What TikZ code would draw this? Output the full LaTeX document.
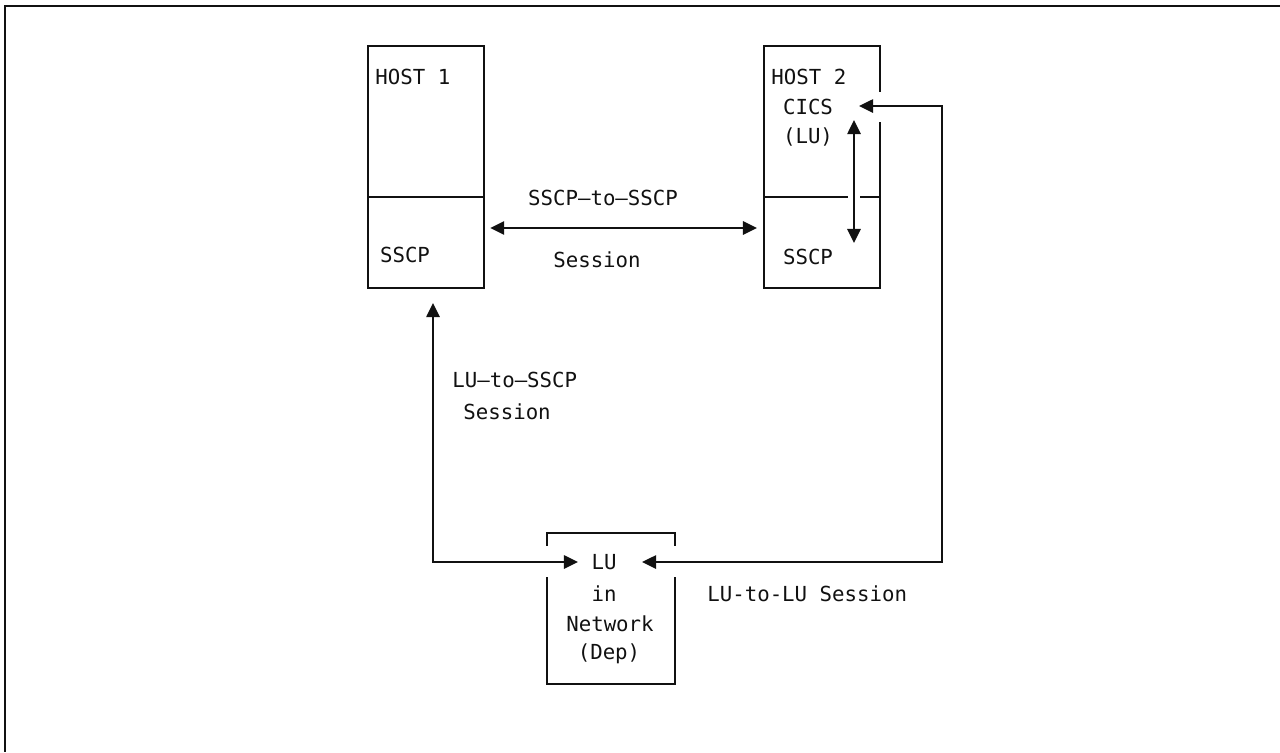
\documentclass[tikz,border=0pt]{standalone}
\usepackage{fontspec}
\setmainfont{DejaVu Sans Mono}
\usetikzlibrary{arrows.meta,positioning,calc}
\definecolor{inkblack}{HTML}{111111}
\tikzset{
  hostbox/.style={draw=inkblack, line width=1.3pt, minimum width=2.32cm, minimum height=4.84cm, anchor=north west, inner sep=0pt},
  netbox/.style={draw=inkblack, line width=1.3pt, minimum width=2.56cm, minimum height=3.02cm, anchor=north west, inner sep=0pt},
  txt/.style={font=\fontsize{11.8}{13}\selectfont, text=inkblack, inner sep=0pt},
  session/.style={draw=inkblack, line width=1.3pt, {Triangle[length=8pt,width=7.5pt]}-{Triangle[length=8pt,width=7.5pt]}},
  frameline/.style={draw=inkblack, line width=1.5pt}
}

\begin{document}
\begin{tikzpicture}[x=0.02cm, y=-0.02cm]
\useasboundingbox (0,0) rectangle (1280,752);
\draw[frameline] (1280,6) -- (5,6) -- (5,752);

% the two hosts
\node[hostbox] (host1) at (367,45) {};
\draw[inkblack, line width=1.3pt] (host1.west |- 0,197) -- (host1.east |- 0,197);
\node[hostbox] (host2) at (763,45) {};
\fill[white] (876,92) rectangle (882,122);
\draw[inkblack, line width=1.3pt] (host2.west |- 0,197) -- (848,197);
\draw[inkblack, line width=1.3pt] (860,197) -- (host2.east |- 0,197);

\node[txt, anchor=west] (h1name) at (375,77) {HOST 1};
\node[txt] (h1sscp) at (405,255) {SSCP};
\node[txt, anchor=west] (h2name) at (771,77) {HOST 2};
\node[txt] (h2cics) at (808,107) {CICS};
\node[txt] (h2lu) at (808,137) {(LU)};
\node[txt] (h2sscp) at (808,257) {SSCP};

% dependent LU
\node[netbox] (netbox) at (546,532) {};
\fill[white] (543,546) rectangle (549,577);
\fill[white] (671,546) rectangle (677,577);
\node[txt] (lutx) at (604,562) {LU};
\node[txt] (intx) at (604,594) {in};
\node[txt] (nettx) at (610,624) {Network};
\node[txt] (deptx) at (609,654) {(Dep)};

% session labels
\node[txt] (sstop) at (603,198) {SSCP–to–SSCP};
\node[txt] (ssbot) at (597,260) {Session};
\node[txt, anchor=west] (lsstop) at (452,380) {LU–to–SSCP};
\node[txt, anchor=west] (lssbot) at (463,412) {Session};
\node[txt, anchor=west] (lulutx) at (707,594) {LU-to-LU Session};

% sessions
\coordinate (ssline) at (0,228);
\draw[session] ([xshift=2.8pt]host1.east |- ssline) -- ([xshift=-3.4pt]host2.west |- ssline);
\coordinate (cicsup) at (854,120);
\coordinate (cicsdn) at (854,243);
\draw[session] (cicsup) -- (cicsdn);
\coordinate (h1tip) at (433,303);
\coordinate (netltip) at (578,562);
\draw[session] (h1tip) |- (netltip);
\coordinate (lulutip) at (859,106);
\coordinate (luluturn) at (942,106);
\coordinate (netrtip) at (642,562);
\draw[session] (lulutip) -- (luluturn) |- (netrtip);
\end{tikzpicture}
\end{document}
